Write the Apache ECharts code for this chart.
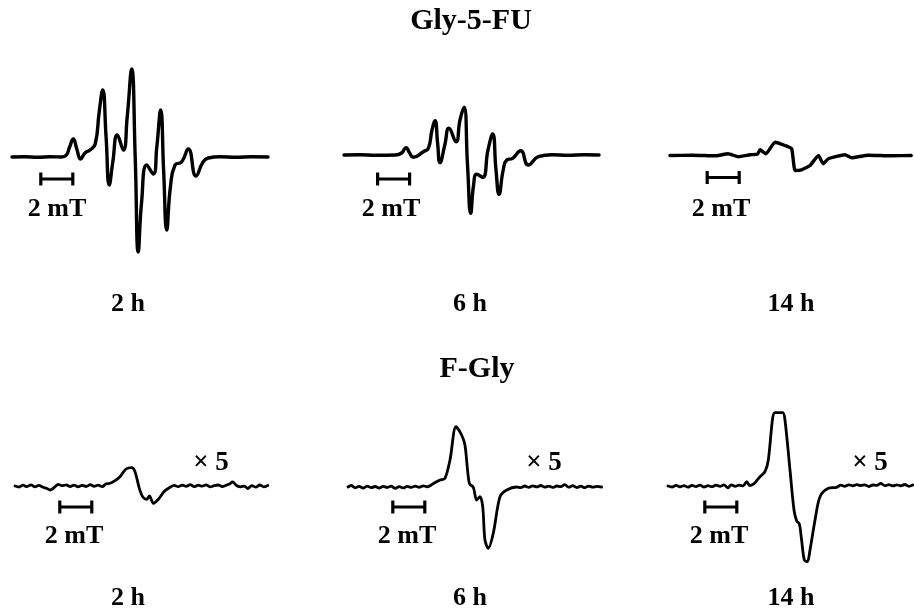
<!DOCTYPE html>
<html>
<head>
<meta charset="utf-8">
<script src="https://cdn.jsdelivr.net/npm/echarts@6/dist/echarts.min.js"></script>
<style>
  html, body { margin: 0; padding: 0; background: #fff; }
  #chart { width: 914px; height: 608px; }
</style>
</head>
<body>
<div id="chart"></div>
<script>
// EPR spectra, x = field offset (mT), y = signal (a.u.)
const groupTitles = ['Gly-5-FU', 'F-Gly']
const timeLabels = ['2 h', '6 h', '14 h']
const scaleLabel = '2 mT'
const gainLabel = '× 5'
const scaleBarLength = 2 // mT

const glyFu2h = [
  [0, 0], [0.8, 0.3], [1.6, -0.3], [2.4, 0.3], [3.1, 0], [3.4, 2], [3.6, 10], [3.83, 18], [4.05, 8],
  [4.29, -2], [4.56, 4], [4.875, 7], [5.2, 13], [5.45, 45], [5.67, 67], [5.88, 20], [6.08, -28],
  [6.3, -5], [6.58, 22], [6.96, 7], [7.2, 40], [7.48, 88], [7.7, 0], [7.89, -95], [8.1, -45],
  [8.42, -8], [8.83, -17], [9.05, 10], [9.29, 47], [9.48, -15], [9.67, -73], [9.9, -30],
  [10.19, -8], [10.6, -5], [11.02, 8], [11.5, -19], [11.94, -5], [12.27, -1], [13, 0.3],
  [14, -0.3], [15, 0.3], [16, 0]
]
const glyFu6h = [
  [0, 0], [1, 0.3], [2, -0.3], [3.2, 0], [3.6, 2], [3.875, 7.3], [4.1, 2], [4.33, -2.3], [4.96, 3.3],
  [5.27, 6.7], [5.5, 25], [5.69, 34.3], [5.85, 12], [6.0, -7.7], [6.3, 10], [6.56, 26.7], [7.0, 13.3],
  [7.25, 35], [7.5, 47.7], [7.72, -10], [7.92, -58.3], [8.1, -30], [8.29, -19.3], [8.67, -22.3],
  [9.0, 5], [9.29, 21], [9.5, -15], [9.69, -39.3], [9.95, -15], [10.17, -5], [10.54, -3.3],
  [11.04, 4.3], [11.52, -10], [12.15, -1.7], [13, 0.3], [14, -0.3], [15, 0.3], [15.94, 0]
]
const glyFu14h = [
  [0.125, 0], [1.5, 0.3], [3, -0.3], [3.75, 1.7], [4.4, -1.2], [5.125, 0.7], [5.6, 1.5], [5.75, 5.7],
  [6.125, 1.7], [6.69, 13.3], [7.31, 10], [7.73, 6.7], [7.94, -15], [8.35, -14.3], [8.875, -10],
  [9.4, 0], [9.7, -8.3], [10.02, -3.3], [11.06, 0.7], [11.48, -2.3], [12.5, 0.3], [14, -0.3], [15.2, 0]
]
const fGly2h = [
  [0, 0], [0.25, -1], [0.5, 0.8], [0.75, -0.6], [1.0, 1.2], [1.25, -0.8], [1.5, 0.6], [1.75, -1.2],
  [2.0, -2.5], [2.2, -4], [2.45, -1.5], [2.7, 1.5], [2.95, 0.3], [3.2, 1.2], [3.45, -0.6], [3.7, 0.9],
  [3.95, -0.8], [4.2, 0.7], [4.45, -0.5], [4.7, 1.3], [4.95, -0.4], [5.2, 0.8], [5.45, -0.6], [5.7, 2.2],
  [5.94, 2.7], [6.25, 5.3], [6.56, 9.3], [6.94, 17], [7.29, 18.3], [7.5, 14.3], [7.77, -2.3],
  [7.98, -10.7], [8.23, -13.3], [8.4, -10], [8.65, -17.3], [8.96, -13.3], [9.31, -5.7], [9.69, -1.3],
  [9.95, 0.6], [10.2, -0.7], [10.45, 0.9], [10.7, -0.3], [10.95, 1.4], [11.2, -0.6], [11.45, 0.8],
  [11.7, -0.2], [11.95, 1.1], [12.2, -0.9], [12.45, 0.4], [12.7, 1.0], [12.95, -0.6], [13.2, 0.7],
  [13.4, 2.0], [13.6, 4.0], [13.85, 0.5], [14.1, -0.8], [14.35, -0.2], [14.55, -2.5], [14.8, 0.4],
  [15.05, -1.2], [15.3, 1.0], [15.55, -0.8], [15.8, 0.6]
]
const fGly6h = [
  [0, 0], [0.2, 1.5], [0.45, -0.8], [0.7, 0.6], [0.95, -1], [1.2, 0.9], [1.45, -0.7], [1.7, 0.5],
  [1.95, -1.1], [2.2, 0.7], [2.45, -0.5], [2.7, 0.8], [2.95, -1.4], [3.2, 0.4], [3.45, -0.9], [3.7, 0.6],
  [3.95, -0.4], [4.2, 0.9], [4.45, -0.3], [4.7, 1.2], [4.95, 0.2], [5.2, 2.0], [5.45, 4.5],
  [5.75, 7], [6.06, 8.7], [6.375, 27], [6.75, 60.3], [7.1, 52], [7.31, 42], [7.58, 3.7], [7.83, -0.3],
  [8.04, -13], [8.25, -9.7], [8.42, -19.7], [8.56, -53], [8.77, -61.3], [9.08, -46.3], [9.5, -9.7],
  [9.92, -3], [10.54, 0], [10.8, -0.6], [11.05, 1.0], [11.3, -0.3], [11.55, 1.2], [11.8, 0.1],
  [12.05, 1.5], [12.3, -0.2], [12.55, 0.9], [12.8, -0.4], [13.05, 1.0], [13.3, 0.3], [13.55, 2.3],
  [13.8, -0.2], [14.05, 1.3], [14.3, -0.5], [14.55, 0.8], [14.8, -0.6], [15.05, 0.9], [15.3, -0.2],
  [15.55, 0.6], [15.85, 0]
]
const fGly14h = [
  [0, 0], [0.25, -1], [0.5, 0.6], [0.75, -0.8], [1.0, 0.4], [1.25, -1.2], [1.5, 0.7], [1.75, -0.6],
  [2.0, 0.9], [2.25, -1.0], [2.5, 0.3], [2.75, -0.7], [3.0, 0.8], [3.25, -0.4], [3.5, 1.1], [3.75, -1.8],
  [3.95, 1.2], [4.2, -0.3], [4.45, 0.8], [4.7, 0.2], [4.92, 4.3], [5.1, 0.5], [5.35, 2], [5.55, 5.5],
  [5.75, 9.3], [6.06, 14.3], [6.27, 26], [6.54, 67.7], [6.69, 73.3], [7.17, 73.3], [7.31, 66],
  [7.625, 16], [7.875, -24], [8.04, -34.7], [8.21, -38], [8.35, -54], [8.52, -74], [8.71, -75.7],
  [8.875, -64], [9.19, -34], [9.5, -10.7], [10.02, -2.3], [10.54, -1.3], [10.8, 0.8], [11.05, -0.3],
  [11.3, 1.2], [11.55, 0.2], [11.8, 1.4], [12.05, 0.4], [12.3, 1.2], [12.55, -0.5], [12.8, 1.0],
  [13.05, 0.6], [13.3, 2.6], [13.55, 0.3], [13.8, 1.3], [14.05, 0.1], [14.3, 1.2], [14.55, 0.2],
  [14.8, 1.5], [15.05, -0.3], [15.3, 1.0]
]

const spectra = [glyFu2h, glyFu6h, glyFu14h, fGly2h, fGly6h, fGly14h]
const scaleBarStart = [1.8, 2.1, 2.45, 2.8, 2.8, 2.3]
const scaleBarLevel = [-22, -24, -22, -21, -20, -21]

// layout: px per mT = 16, 1 a.u. = 1 px
const PX_PER_MT = 16
const panels = [
  {left: 12, width: 256, base: 157},
  {left: 344, width: 256, base: 155},
  {left: 668, width: 246, base: 155.5},
  {left: 15, width: 256, base: 486},
  {left: 348, width: 256, base: 487},
  {left: 668, width: 246, base: 486},
]
const smoothness = [0.5, 0.5, 0.15, 0.3, 0.3, 0.3]

const grid = [], xAxis = [], yAxis = [], series = []
panels.forEach((p, i) => {
  grid.push({left: p.left, top: p.base - 100, width: p.width, height: 200})
  xAxis.push({type: 'value', gridIndex: i, min: 0, max: p.width / PX_PER_MT, show: false})
  yAxis.push({type: 'value', gridIndex: i, min: -100, max: 100, show: false})
  series.push({
    type: 'line', xAxisIndex: i, yAxisIndex: i, data: spectra[i],
    symbol: 'none', smooth: smoothness[i], animation: false,
    lineStyle: {color: '#000', width: i < 3 ? 3.4 : 2.8, join: 'round', cap: 'round'},
  })
  const s = scaleBarStart[i], l = scaleBarLevel[i], e = s + scaleBarLength
  series.push({
    type: 'line', xAxisIndex: i, yAxisIndex: i, symbol: 'none', animation: false,
    data: [[s, l + 6.5], [s, l - 6.5], [s, l], [e, l], [e, l + 6.5], [e, l - 6.5]],
    lineStyle: {color: '#000', width: 3.2},
  })
})

const serif = '"Liberation Serif", "Times New Roman", serif'
function label(text, x, baseline, size) {
  return {
    type: 'text', x: x, y: baseline - size * 0.3,
    style: {text: text, fill: '#000', font: 'bold ' + size + 'px ' + serif,
      align: 'center', verticalAlign: 'middle', textAlign: 'center', textVerticalAlign: 'middle'},
  }
}

const graphic = [
  label(groupTitles[0], 471, 30, 30),
  label(groupTitles[1], 477, 378, 30),
]
const timeX = [128, 470, 791]
timeX.forEach((x, k) => {
  graphic.push(label(timeLabels[k], x, 312, 26))
  graphic.push(label(timeLabels[k], x, 606, 26))
})
const scaleTextX = [57, 391, 721, 74, 407, 719]
scaleTextX.forEach((x, i) => graphic.push(label(scaleLabel, x, i < 3 ? 217 : 544, 26)))
const gainX = [211, 544, 870]
gainX.forEach(x => graphic.push(label(gainLabel, x, 471, 27)))

const chart = echarts.init(document.getElementById('chart'))
chart.setOption({
  animation: false,
  backgroundColor: '#fff',
  grid: grid,
  xAxis: xAxis,
  yAxis: yAxis,
  series: series,
  graphic: graphic,
})
</script>
</body>
</html>
